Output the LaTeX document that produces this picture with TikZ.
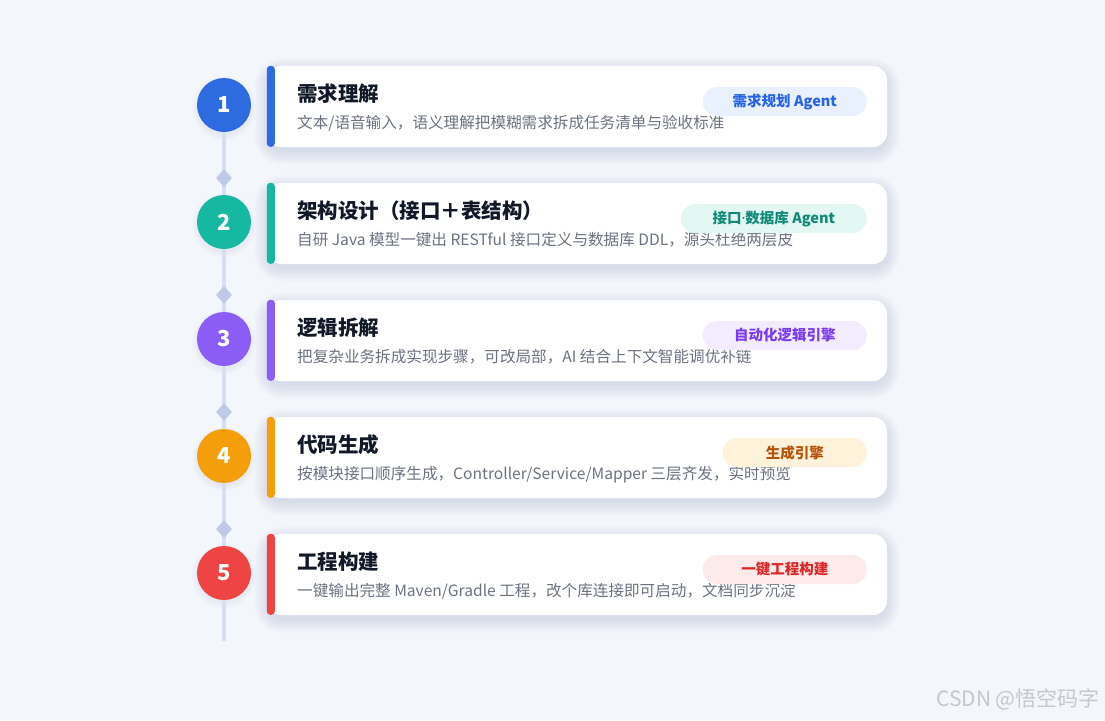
\documentclass[tikz,border=0pt]{standalone}
\usepackage{fontspec}
\setmainfont{Noto Sans CJK SC}
\newfontfamily\latinfont{Noto Sans}
\usetikzlibrary{shapes.geometric}

\definecolor{pagebg}{HTML}{F3F6FB}
\definecolor{spinecol}{HTML}{D5DFEF}
\definecolor{knotcol}{HTML}{BDCBE6}
\definecolor{titlecol}{HTML}{111827}
\definecolor{desccol}{HTML}{6B7280}
\definecolor{markcol}{HTML}{C4C8CF}
\definecolor{shadecol}{HTML}{1E3A6A}
% step colours
\definecolor{stepA}{HTML}{2F6BE0}
\definecolor{stepB}{HTML}{16B8A2}
\definecolor{stepC}{HTML}{8B5CF6}
\definecolor{stepD}{HTML}{F59E0B}
\definecolor{stepE}{HTML}{EF4444}
% badge fill / badge text
\definecolor{tagfillA}{HTML}{EAF1FE}
\definecolor{tagfillB}{HTML}{E4F8F3}
\definecolor{tagfillC}{HTML}{F2ECFE}
\definecolor{tagfillD}{HTML}{FEF2DA}
\definecolor{tagfillE}{HTML}{FDEBEB}
\definecolor{tagtextA}{HTML}{2563EB}
\definecolor{tagtextB}{HTML}{0F8A78}
\definecolor{tagtextC}{HTML}{7C3AED}
\definecolor{tagtextD}{HTML}{B45309}
\definecolor{tagtextE}{HTML}{DC2626}

\pgfdeclarelayer{paper}
\pgfdeclarelayer{spine}
\pgfsetlayers{paper,spine,main}

\tikzset{
  cardbox/.style={draw=none, fill=white, rounded corners=14pt,
    minimum width=620pt, minimum height=81pt, inner sep=0pt},
  stepdot/.style={circle, fill=#1, minimum size=54pt, inner sep=0pt,
    text=white, font=\bfseries\fontsize{22}{22}\selectfont},
  steptitle/.style={anchor=base west, inner sep=0pt, text=titlecol,
    font=\bfseries\fontsize{20.5}{24}\selectfont},
  stepdesc/.style={anchor=base west, inner sep=0pt, text=desccol,
    font=\fontsize{15.6}{18}\selectfont},
  tagpill/.style={anchor=east, rounded corners=14.5pt, minimum height=29pt,
    inner sep=0pt, font=\bfseries\fontsize{14.5}{16}\selectfont},
  knot/.style={diamond, fill=knotcol, minimum width=16pt, minimum height=18pt,
    inner sep=0pt},
  spineline/.style={draw=spinecol, line width=4.5pt, line cap=round},
  haze/.style={fill=shadecol, fill opacity=0.011}
}

\begin{document}
\begin{tikzpicture}[x=1pt,y=-1pt]
\begin{pgfonlayer}{paper}
  \fill[pagebg] (0,0) rectangle (1105,720);
\end{pgfonlayer}
\useasboundingbox (0,0) rectangle (1105,720);

\foreach \i/\col/\title/\desc/\tag/\tw in {
  1/A/{需求理解}/{文本/语音输入，语义理解把模糊需求拆成任务清单与验收标准}/{需求规划 Agent}/164,
  2/B/{架构设计（接口＋表结构）}/{自研 Java 模型一键出 RESTful 接口定义与数据库 DDL，源头杜绝两层皮}/{接口{\latinfont\bfseries ·}数据库 Agent}/186,
  3/C/{逻辑拆解}/{把复杂业务拆成实现步骤，可改局部，AI 结合上下文智能调优补链}/{自动化逻辑引擎}/164,
  4/D/{代码生成}/{按模块接口顺序生成，Controller/Service/Mapper 三层齐发，实时预览}/{生成引擎}/144,
  5/E/{工程构建}/{一键输出完整 Maven/Gradle 工程，改个库连接即可启动，文档同步沉淀}/{一键工程构建}/164}
{
  \pgfmathsetmacro{\cy}{106.5+117*(\i-1)}
  % card with coloured edge
  \node[cardbox] (card\i) at (577,\cy) {};
  \fill[step\col, rounded corners=3.5pt] (card\i.north west) rectangle ++(8,81);
  \node[steptitle] (title\i) at (297,\cy-5) {\title};
  \node[stepdesc] (desc\i) at (297,\cy+21.5) {\desc};
  \node[tagpill, fill=tagfill\col, text=tagtext\col, minimum width=\tw pt]
    (tag\i) at (867,\cy-5) {\tag};
  % number on the time line
  \node[stepdot=step\col] (n\i) at (224,\cy-1.5) {\i};
  % soft shadows
  \begin{pgfonlayer}{spine}
    \foreach \k in {1,...,9}{
      \pgfmathsetmacro{\rr}{13+1.6*\k}
      \pgfmathsetmacro{\gg}{1.6*\k-2}
      \fill[haze, rounded corners=\rr pt]
        ([shift={(-\gg,-\gg+5)}]card\i.north west) rectangle
        ([shift={(\gg,\gg+5)}]card\i.south east);
    }
    \foreach \k in {1,...,4}
      \fill[haze] ([yshift=-3pt]n\i.center) circle[radius=26+1.5*\k];
  \end{pgfonlayer}
}

\coordinate (tail) at (224,639);
\begin{pgfonlayer}{spine}
  \draw[spineline] (n1) -- (tail);
  \foreach \i in {1,...,4}{
    \pgfmathsetmacro{\ky}{178+117*(\i-1)}
    \node[knot] (k\i) at (224,\ky) {};
  }
\end{pgfonlayer}

\node[anchor=base east, inner sep=0pt, text=markcol,
  font=\fontsize{21}{24}\selectfont] (mark) at (1100,706) {CSDN @悟空码字};
\end{tikzpicture}
\end{document}
